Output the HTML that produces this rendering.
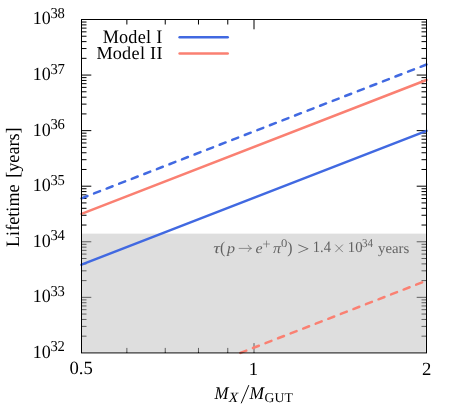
<!DOCTYPE html>
<html><head><meta charset="utf-8"><style>
html,body{margin:0;padding:0;background:#fff;}
svg{display:block;font-family:"Liberation Serif",serif;will-change:transform;text-rendering:geometricPrecision;}
</style></head><body>
<svg width="456" height="410" viewBox="0 0 456 410">
<rect width="456" height="410" fill="#fff"/>
<path d="M81.50 336.17L86.50 336.17M426.50 336.17L421.50 336.17M81.50 326.39L86.50 326.39M426.50 326.39L421.50 326.39M81.50 319.45L86.50 319.45M426.50 319.45L421.50 319.45M81.50 314.06L86.50 314.06M426.50 314.06L421.50 314.06M81.50 309.66L86.50 309.66M426.50 309.66L421.50 309.66M81.50 305.94L86.50 305.94M426.50 305.94L421.50 305.94M81.50 302.72L86.50 302.72M426.50 302.72L421.50 302.72M81.50 299.88L86.50 299.88M426.50 299.88L421.50 299.88M81.50 297.33L91.30 297.33M426.50 297.33L416.70 297.33M81.50 280.61L86.50 280.61M426.50 280.61L421.50 280.61M81.50 270.82L86.50 270.82M426.50 270.82L421.50 270.82M81.50 263.88L86.50 263.88M426.50 263.88L421.50 263.88M81.50 258.49L86.50 258.49M426.50 258.49L421.50 258.49M81.50 254.09L86.50 254.09M426.50 254.09L421.50 254.09M81.50 250.37L86.50 250.37M426.50 250.37L421.50 250.37M81.50 247.15L86.50 247.15M426.50 247.15L421.50 247.15M81.50 244.31L86.50 244.31M426.50 244.31L421.50 244.31M81.50 241.77L91.30 241.77M426.50 241.77L416.70 241.77M81.50 225.04L86.50 225.04M426.50 225.04L421.50 225.04M81.50 215.25L86.50 215.25M426.50 215.25L421.50 215.25M81.50 208.31L86.50 208.31M426.50 208.31L421.50 208.31M81.50 202.93L86.50 202.93M426.50 202.93L421.50 202.93M81.50 198.53L86.50 198.53M426.50 198.53L421.50 198.53M81.50 194.81L86.50 194.81M426.50 194.81L421.50 194.81M81.50 191.58L86.50 191.58M426.50 191.58L421.50 191.58M81.50 188.74L86.50 188.74M426.50 188.74L421.50 188.74M81.50 186.20L91.30 186.20M426.50 186.20L416.70 186.20M81.50 169.47L86.50 169.47M426.50 169.47L421.50 169.47M81.50 159.69L86.50 159.69M426.50 159.69L421.50 159.69M81.50 152.75L86.50 152.75M426.50 152.75L421.50 152.75M81.50 147.36L86.50 147.36M426.50 147.36L421.50 147.36M81.50 142.96L86.50 142.96M426.50 142.96L421.50 142.96M81.50 139.24L86.50 139.24M426.50 139.24L421.50 139.24M81.50 136.02L86.50 136.02M426.50 136.02L421.50 136.02M81.50 133.18L86.50 133.18M426.50 133.18L421.50 133.18M81.50 130.63L91.30 130.63M426.50 130.63L416.70 130.63M81.50 113.91L86.50 113.91M426.50 113.91L421.50 113.91M81.50 104.12L86.50 104.12M426.50 104.12L421.50 104.12M81.50 97.18L86.50 97.18M426.50 97.18L421.50 97.18M81.50 91.79L86.50 91.79M426.50 91.79L421.50 91.79M81.50 87.39L86.50 87.39M426.50 87.39L421.50 87.39M81.50 83.67L86.50 83.67M426.50 83.67L421.50 83.67M81.50 80.45L86.50 80.45M426.50 80.45L421.50 80.45M81.50 77.61L86.50 77.61M426.50 77.61L421.50 77.61M81.50 75.07L91.30 75.07M426.50 75.07L416.70 75.07M81.50 58.34L86.50 58.34M426.50 58.34L421.50 58.34M81.50 48.55L86.50 48.55M426.50 48.55L421.50 48.55M81.50 41.61L86.50 41.61M426.50 41.61L421.50 41.61M81.50 36.23L86.50 36.23M426.50 36.23L421.50 36.23M81.50 31.83L86.50 31.83M426.50 31.83L421.50 31.83M81.50 28.11L86.50 28.11M426.50 28.11L421.50 28.11M81.50 24.88L86.50 24.88M426.50 24.88L421.50 24.88M81.50 22.04L86.50 22.04M426.50 22.04L421.50 22.04M126.87 352.90L126.87 347.90M126.87 19.50L126.87 24.50M165.24 352.90L165.24 347.90M165.24 19.50L165.24 24.50M198.47 352.90L198.47 347.90M198.47 19.50L198.47 24.50M227.78 352.90L227.78 347.90M227.78 19.50L227.78 24.50M254.00 352.90L254.00 343.10M254.00 19.50L254.00 29.30" stroke="#000" stroke-width="1" fill="none"/>
<g fill="#000" font-size="14.5">
<text transform="translate(213.2 252.5) scale(1.3 1)" font-style="italic">τ</text>
<text transform="translate(219.9 252.6) scale(1.09 1.15)">(</text>
<text transform="translate(226.97 252.5) scale(1.11 1)" font-style="italic">p</text>
<path d="M238.7 248.4H251.2M248 244.9Q248.9 247.6 251.6 248.4Q248.9 249.2 248 251.9" fill="none" stroke="#000" stroke-width="0.65"/>
<text transform="translate(255.6 252.5) scale(1.1 1)" font-style="italic">e</text>
<path d="M263.1 244H269.9M266.5 240.6V247.4" fill="none" stroke="#000" stroke-width="0.6"/>
<text transform="translate(272.9 252.5) scale(1.1 1)" font-style="italic">π</text>
<text transform="translate(281.0 246.5) scale(1.1 1)" font-size="11.5">0</text>
<text transform="translate(287.3 252.6) scale(1.09 1.15)">)</text>
<text transform="translate(297.17 255.0) scale(1.49 1.28)">&gt;</text>
<text transform="translate(312.75 252.2) scale(1 1.09)">1.4</text>
<path d="M335.35 244.6L342.85 252.1M342.85 244.6L335.35 252.1" fill="none" stroke="#000" stroke-width="0.75"/>
<text transform="translate(347.8 252.2) scale(1.02 1.05)">10</text>
<text transform="translate(362.1 247.1) scale(0.96 1.06)" font-size="11.5">34</text>
<text transform="translate(378.1 252.5) scale(1.02 1)">years</text>
</g>
<rect x="81.5" y="233.65" width="344.35" height="118.25" fill="#bebebe" fill-opacity="0.5"/>
<g fill="none" stroke-width="2.5" stroke-linecap="round">
<path d="M81.50 264.70L426.50 130.88" stroke="#4169e1"/>
<path d="M81.50 213.82L426.50 80.00" stroke="#fa8072"/>
<path d="M81.50 198.32L426.50 64.50" stroke="#4169e1" stroke-dasharray="6.4 7.07"/>
<path d="M240.36 352.90L426.50 280.70" stroke="#fa8072" stroke-dasharray="6.4 7.07"/>
<path d="M179.6 37.2H227.7" stroke="#4169e1"/>
<path d="M179.6 53.6H227.7" stroke="#fa8072"/>
</g>
<rect x="81.5" y="19.5" width="345.0" height="333.4" fill="none" stroke="#000" stroke-width="1"/>
<g fill="#000" font-size="18">
<text transform="translate(32.7 357.80) scale(1 1.04)">10<tspan font-size="14.6" dy="-6.1" dx="-0.3" letter-spacing="-0.3">32</tspan></text>
<text transform="translate(32.7 302.23) scale(1 1.04)">10<tspan font-size="14.6" dy="-6.1" dx="-0.3" letter-spacing="-0.3">33</tspan></text>
<text transform="translate(32.7 246.67) scale(1 1.04)">10<tspan font-size="14.6" dy="-6.1" dx="-0.3" letter-spacing="-0.3">34</tspan></text>
<text transform="translate(32.7 191.10) scale(1 1.04)">10<tspan font-size="14.6" dy="-6.1" dx="-0.3" letter-spacing="-0.3">35</tspan></text>
<text transform="translate(32.7 135.53) scale(1 1.04)">10<tspan font-size="14.6" dy="-6.1" dx="-0.3" letter-spacing="-0.3">36</tspan></text>
<text transform="translate(32.7 79.97) scale(1 1.04)">10<tspan font-size="14.6" dy="-6.1" dx="-0.3" letter-spacing="-0.3">37</tspan></text>
<text transform="translate(32.7 24.40) scale(1 1.04)">10<tspan font-size="14.6" dy="-6.1" dx="-0.3" letter-spacing="-0.3">38</tspan></text>
<text x="81.2" y="374.4" text-anchor="middle" font-size="18.7">0.5</text>
<text x="253.50" y="374.7" text-anchor="middle" font-size="18.7">1</text>
<text x="426.7" y="374.7" text-anchor="middle" font-size="18.7">2</text>
<text transform="translate(102.75 42.8) scale(1 1.04)" font-size="18.2" letter-spacing="0.3"><tspan letter-spacing="0">M</tspan>odel I</text>
<text transform="translate(96.55 58.9) scale(1 1.0)" font-size="18.2" letter-spacing="0.3"><tspan letter-spacing="0">M</tspan>odel II</text>
<text transform="translate(18.6 247.0) rotate(-90) scale(1 1.04)" font-size="18.2" word-spacing="2">Lifetime [years]</text>
<text transform="translate(214.5 398.7) scale(0.934 1)" font-style="italic">M</text>
<text transform="translate(228.8 401.7) scale(1.165 1.06)" font-style="italic" font-size="13.3">X</text>
<path d="M241.2 403.3L248.85 385.1" stroke="#000" stroke-width="0.95" fill="none"/>
<text transform="translate(249.4 398.7) scale(0.97 1)" font-style="italic">M</text>
<text transform="translate(264.6 401.7) scale(1.03 1.02)" font-size="13.3">GUT</text>
</g>
</svg>
</body></html>
